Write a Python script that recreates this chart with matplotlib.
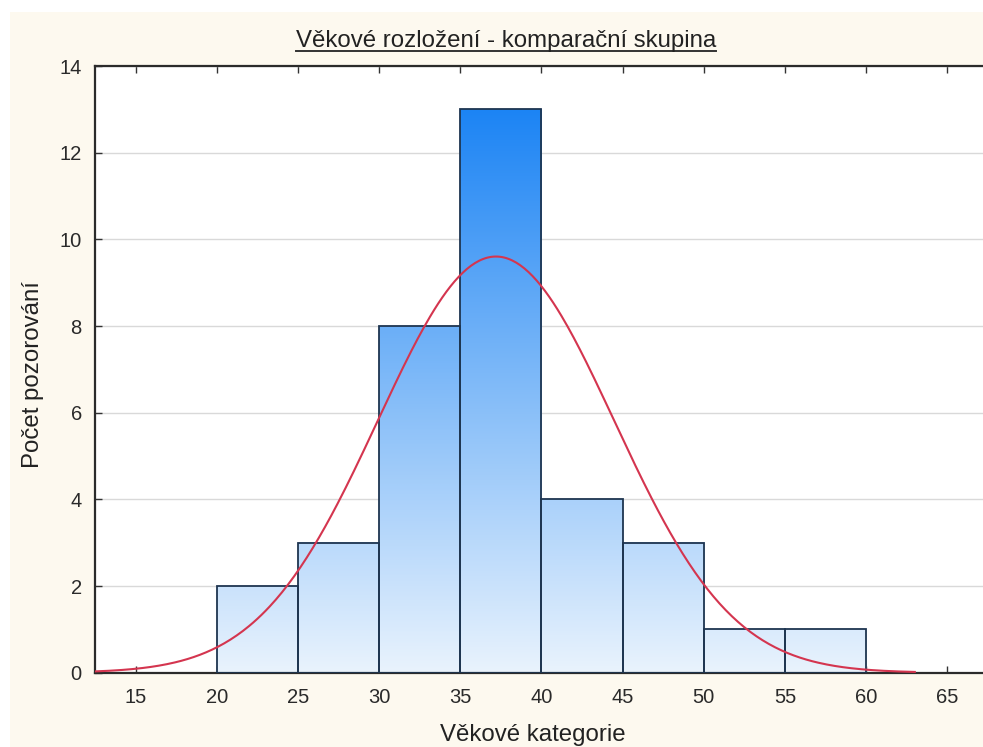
import numpy as np
import matplotlib
matplotlib.use("Agg")
import matplotlib.pyplot as plt
from matplotlib.patches import Rectangle
from matplotlib.lines import Line2D
from matplotlib.colors import LinearSegmentedColormap

plt.rcParams['font.family'] = ['Liberation Sans', 'DejaVu Sans']

# ---- data ----
bin_edges = [20, 25, 30, 35, 40, 45, 50, 55, 60]
counts = [2, 3, 8, 13, 4, 3, 1, 1]
fit_mean = 37.2
fit_sd = 7.27
curve_range = (12.5, 63.0)
x_ticks = [15, 20, 25, 30, 35, 40, 45, 50, 55, 60, 65]
y_ticks = [0, 2, 4, 6, 8, 10, 12, 14]
title = "Věkové rozložení - komparační skupina"
xlabel = "Věkové kategorie"
ylabel = "Počet pozorování"

W, H = 983, 747
fig = plt.figure(figsize=(W / 100, H / 100), dpi=100, facecolor="white")
# cream panel
fig.patches.append(Rectangle((10 / W, 0), 1 - 10 / W, 1 - 12 / H,
                             transform=fig.transFigure, facecolor="#FDF9EF",
                             edgecolor="none", zorder=-10))

left, right = 95 / W, 1.0
bottom, top = 1 - 672.7 / H, 1 - 66 / H
ax = fig.add_axes([left, bottom, right - left, top - bottom])
ax.set_facecolor("white")

cmap = LinearSegmentedColormap.from_list("bl", [(0, "#E9F3FD"), (1, "#1C84F4")])
ymax_grad = 13.0

for i, c in enumerate(counts):
    x0, x1 = bin_edges[i], bin_edges[i + 1]
    ax.imshow(np.linspace(0, c / ymax_grad, 256).reshape(-1, 1),
              extent=(x0, x1, 0, c), origin="lower", aspect="auto",
              cmap=cmap, vmin=0, vmax=1, zorder=2, interpolation="bilinear")
    ax.add_patch(Rectangle((x0, 0), x1 - x0, c, facecolor="none",
                           edgecolor="#1E3550", linewidth=1.3, zorder=3))

# fitted normal curve
n_total = sum(counts)
bw = bin_edges[1] - bin_edges[0]
xs = np.linspace(curve_range[0], curve_range[1], 400)
ys = n_total * bw * np.exp(-0.5 * ((xs - fit_mean) / fit_sd) ** 2) / (np.sqrt(2 * np.pi) * fit_sd)
ax.plot(xs, ys, color="#D4354F", linewidth=1.5, zorder=4)

ax.set_xlim(12.5, 67.2)
ax.set_ylim(0, 14)
ax.set_xticks(x_ticks)
ax.set_yticks(y_ticks)
ax.yaxis.grid(True, color="#D9D9D9", linewidth=1.0, zorder=0)
ax.set_axisbelow(True)

for s in ["top", "bottom", "left"]:
    ax.spines[s].set_color("#2B2B2B")
    ax.spines[s].set_linewidth(1.6)
ax.spines["right"].set_visible(False)

ax.tick_params(axis="x", direction="in", top=True, length=5, width=1, color="#333333",
               labelsize=14.5, pad=11, labelcolor="#2a2a2a")
ax.tick_params(axis="y", direction="in", length=5, width=1, color="#333333",
               labelsize=14.5, pad=9.5, labelcolor="#2a2a2a")

# title with underline
t = fig.text(506 / W, 1 - 46.5 / H, title, ha="center", va="baseline",
             fontsize=17.3, color="#222222")
fig.canvas.draw()
bb = t.get_window_extent()
fig.add_artist(Line2D([bb.x0 / W, bb.x1 / W], [1 - 50.5 / H, 1 - 50.5 / H],
                      transform=fig.transFigure, color="#333333", linewidth=1.4))

fig.text(533 / W, 1 - 741 / H, xlabel, ha="center", va="baseline",
         fontsize=17.3, color="#222222")
fig.text(33 / W, 1 - 375 / H, ylabel, ha="center", va="center", rotation=90,
         fontsize=17.3, color="#222222")

fig.savefig("out.png", dpi=100, facecolor=fig.get_facecolor())
